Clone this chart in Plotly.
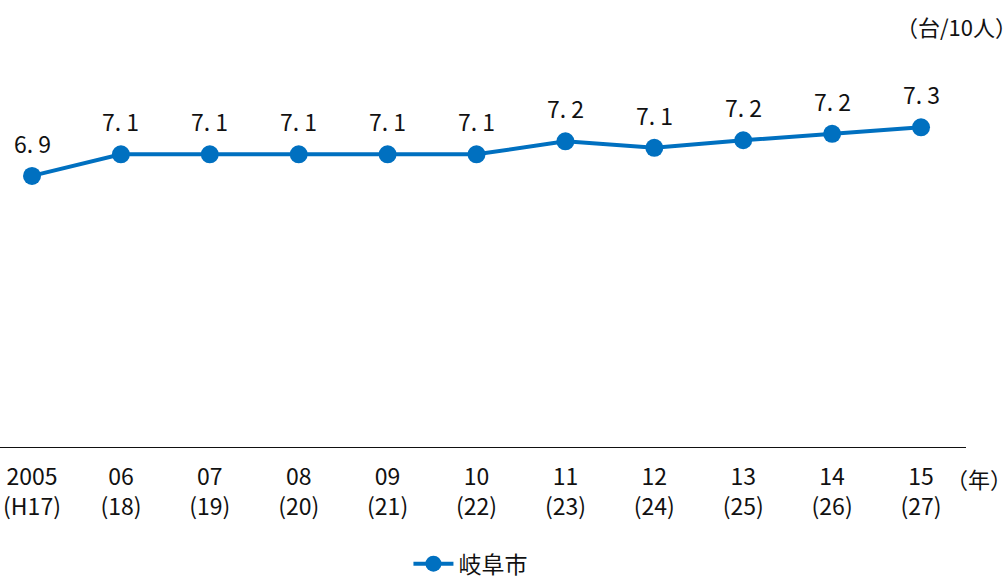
import plotly.graph_objects as go

# years on the x axis (western year / Heisei year)
years = ["2005", "06", "07", "08", "09", "10", "11", "12", "13", "14", "15"]
heisei = ["(H17)", "(18)", "(19)", "(20)", "(21)", "(22)", "(23)", "(24)", "(25)", "(26)", "(27)"]

# cars per 10 persons, Gifu city (estimated from the plotted positions)
cars_per_10 = [6.90, 7.10, 7.10, 7.10, 7.10, 7.10, 7.22, 7.16, 7.23, 7.29, 7.35]
value_labels = ["6.9", "7.1", "7.1", "7.1", "7.1", "7.1", "7.2", "7.1", "7.2", "7.2", "7.3"]

series_name = "岐阜市"
unit_label = "（台/10人）"
year_label = "（年）"

BLUE = "#0070C0"
FONT = "Noto Sans CJK JP, Liberation Sans, sans-serif"

x_pos = list(range(len(years)))
tick_text = [f"{y}<br>{h}" for y, h in zip(years, heisei)]

fig = go.Figure()
fig.add_trace(go.Scatter(
    x=x_pos,
    y=cars_per_10,
    mode="lines+markers",
    name=series_name,
    line=dict(color=BLUE, width=4),
    marker=dict(color=BLUE, size=18),
    cliponaxis=False,
))

# value labels above each point
for xi, yi, lab in zip(x_pos, cars_per_10, value_labels):
    fig.add_annotation(
        x=xi, y=yi, text=lab.replace(".", ". "),
        showarrow=False, yshift=33,
        font=dict(size=23, color="#111", family=FONT),
    )

fig.update_layout(
    width=1006,
    height=576,
    paper_bgcolor="white",
    plot_bgcolor="white",
    margin=dict(l=0, r=40, t=10, b=129, autoexpand=False),
    font=dict(family=FONT, color="#111"),
    showlegend=True,
    legend=dict(
        orientation="h",
        x=0.487, xanchor="center",
        y=-0.218, yanchor="top",
        font=dict(size=23, color="#111", family=FONT),
        itemwidth=40,
    ),
    xaxis=dict(
        range=[-0.36, 10.506],
        tickmode="array",
        tickvals=x_pos,
        ticktext=tick_text,
        tickfont=dict(size=23, color="#111", family=FONT),
        showgrid=False,
        zeroline=False,
        showline=True,
        linecolor="#111",
        linewidth=1,
        ticks="",
        ticklabelstandoff=9,
        automargin=False,
    ),
    yaxis=dict(
        range=[4.39, 8.436],
        visible=False,
        showgrid=False,
        zeroline=False,
        automargin=False,
    ),
)

fig.add_annotation(
    text=unit_label, xref="paper", yref="paper",
    x=1.055, y=1.005, xanchor="right", yanchor="top",
    showarrow=False, font=dict(size=22, color="#111", family=FONT),
)
fig.add_annotation(
    text=year_label, xref="paper", yref="paper",
    x=1.05, y=-0.07, xanchor="right", yanchor="middle",
    showarrow=False, font=dict(size=22, color="#111", family=FONT),
)

# drop the default page margin so the chart sits at the window's corner
fig.write_html(
    "out.html",
    config={"displayModeBar": False},
    post_script="document.body.style.margin='0';",
)
